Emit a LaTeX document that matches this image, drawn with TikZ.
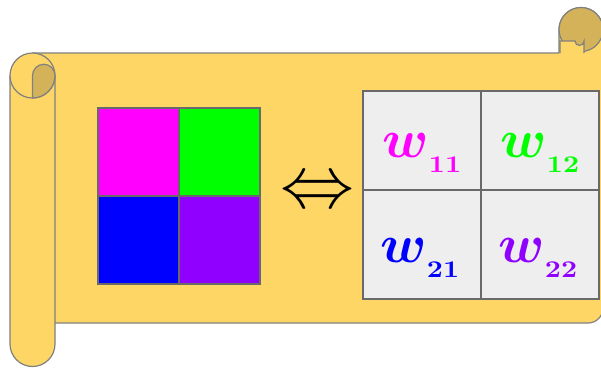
\documentclass[tikz,border=0pt]{standalone}
\usepackage{graphicx}

\definecolor{scrollyellow}{RGB}{253,214,102}
\definecolor{curldark}{RGB}{212,178,90}
\definecolor{scrolledge}{RGB}{128,128,128}
\definecolor{cellgrey}{RGB}{238,238,238}
\definecolor{gridline}{RGB}{105,105,105}
\definecolor{wmagenta}{RGB}{255,0,255}
\definecolor{wgreen}{RGB}{0,255,0}
\definecolor{wblue}{RGB}{0,0,255}
\definecolor{wviolet}{RGB}{143,0,255}

% bold w with a lowered bold index
\newcommand\wsym[1]{\scalebox{5.4}{\boldmath$w$}%
  \raisebox{-15pt}{\scalebox{2.8}[2.4]{\bfseries #1}}}

\begin{document}
\begin{tikzpicture}[x=1pt,y=-1pt,
  scroll/.style={fill=scrollyellow,draw=scrolledge,line width=1.2pt,line join=round},
  curl/.style={fill=curldark,draw=scrolledge,line width=1.2pt,line join=round},
  colsq/.style={draw=gridline,line width=1.5pt,anchor=north west,inner sep=0pt,
    minimum width=81,minimum height=88},
  cell/.style={fill=cellgrey,draw=gridline,line width=1.5pt,anchor=north west,inner sep=0pt,
    minimum width=118},
  wlab/.style={anchor=base west,inner sep=0pt,outer sep=0pt}]
\useasboundingbox (0,0) rectangle (601,368);
\fill[white] (0,0) rectangle (601,368);

% scroll body with the right roll rising above it
\draw[scroll] (32.5,53) -- (559,53) -- (559,29.5)
  arc[start angle=180,end angle=360,radius=22] -- (603,308)
  arc[start angle=0,end angle=90,radius=15] -- (32.5,323) -- cycle;

% end of the right roll: dark curl, front face with the curled tip biting into it
\draw[curl] (581,29.5) circle[radius=22];
\fill[scrollyellow] (560,53.5) -- (560,41) -- (575,41)
  arc[start angle=180,end angle=0,radius=4.5] -- (584,53.5) -- cycle;
\draw[scrolledge,line width=1.2pt] (560,53) -- (560,41) -- (575,41)
  arc[start angle=180,end angle=0,radius=4.5] -- (584,53);

% left roll
\draw[scroll] (10,75.5) -- (10,344) arc[start angle=180,end angle=0,radius=22.5] -- (55,75.5);
\draw[scroll] (32.5,75.5) circle[radius=22.5];
\draw[curl] (32.5,98) -- (32.5,75.5) arc[start angle=180,end angle=360,radius=11.25]
  arc[start angle=0,end angle=90,radius=22.5] -- cycle;

% coloured 2x2 block
\node[colsq,fill=wmagenta] (s11) at (97,107) {};
\node[colsq,fill=wgreen]   (s12) at (178,107) {};
\node[colsq,fill=wblue]    (s21) at (97,195) {};
\node[colsq,fill=wviolet]  (s22) at (178,195) {};

% equivalence sign
\node[anchor=base,inner sep=0pt] (eq) at (317.5,207.5) {\scalebox{7.4}{$\Leftrightarrow$}};

% weight matrix
\node[cell,minimum height=99]  (c11) at (362,90) {};
\node[cell,minimum height=99]  (c12) at (480,90) {};
\node[cell,minimum height=109] (c21) at (362,189) {};
\node[cell,minimum height=109] (c22) at (480,189) {};

\node[wlab,text=wmagenta] (w11) at (382.5,157) {\wsym{11}};
\node[wlab,text=wgreen]   (w12) at (500.5,157) {\wsym{12}};
\node[wlab,text=wblue]    (w21) at (380.5,262) {\wsym{21}};
\node[wlab,text=wviolet]  (w22) at (498.5,262) {\wsym{22}};
\end{tikzpicture}
\end{document}
